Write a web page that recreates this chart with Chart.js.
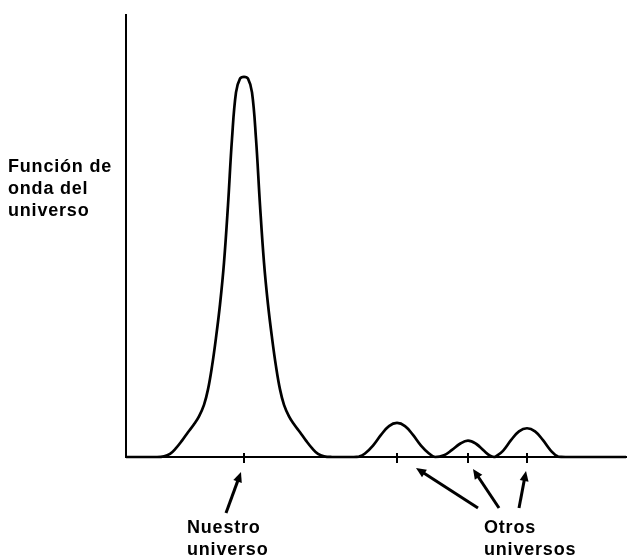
<!DOCTYPE html>
<html>
  <head>
    <title>Función de onda del universo</title>
    <style>
      body { margin: 0; background: #fff; }
      #wrap { width: 628px; height: 557px; }
    </style>
  </head>
  <body>
    <div id="wrap"><canvas id="waveChart"></canvas></div>

    <script src="https://cdn.jsdelivr.net/npm/chart.js"></script>
    <script>
      // posicion (unidades arbitrarias) y amplitud de la funcion de onda
      const xValues = [0, 30, 38, 44, 50, 56, 62, 68, 73, 78, 82, 86, 90, 94, 98, 102, 106, 110, 114,
        118, 122, 126, 130, 134, 138, 142, 146, 150, 154, 158, 163, 168, 174, 180, 186, 192, 198, 206,
        227, 233, 239, 247, 255, 263, 271, 279, 287, 295, 303, 309,
        318, 326, 334, 342, 350, 358, 364, 368,
        370, 377, 385, 393, 401, 409, 417, 425, 432, 440, 500];
      const yValues = [0, 0, 0.15, 0.7, 2, 3.7, 5.6, 7.4, 9.2, 11.8, 15.3, 20.5, 27, 34.5, 44, 57, 72, 82.5, 85.6,
        86, 85.6, 82.5, 72, 57, 44, 34.5, 27, 20.5, 15.3, 11.8, 9.2, 7.4, 5.6, 3.7, 2, 0.7, 0.15, 0,
        0, 0.1, 0.8, 2.6, 5, 7, 7.7, 7, 5, 2.6, 0.8, 0,
        0.4, 1.6, 3, 3.7, 3, 1.4, 0.3, 0,
        0.15, 1.4, 3.8, 5.8, 6.5, 5.8, 3.8, 1.4, 0.1, 0, 0];
      // marcas en el eje x: nuestro universo + otros universos
      const tickPositions = [118, 271, 342, 401];
      const yLabel = ["Función de", "onda del", "universo"];
      const ourLabel = ["Nuestro", "universo"];
      const otherLabel = ["Otros", "universos"];

      const points = xValues.map((x, i) => ({ x: x, y: yValues[i] }));

      function arrow(ctx, x1, y1, x2, y2) {
        const ang = Math.atan2(y2 - y1, x2 - x1);
        const head = 11;
        ctx.beginPath();
        ctx.moveTo(x1, y1);
        ctx.lineTo(x2 - Math.cos(ang) * 6, y2 - Math.sin(ang) * 6);
        ctx.stroke();
        ctx.beginPath();
        ctx.moveTo(x2, y2);
        ctx.lineTo(x2 - head * Math.cos(ang - 0.42), y2 - head * Math.sin(ang - 0.42));
        ctx.lineTo(x2 - head * Math.cos(ang + 0.42), y2 - head * Math.sin(ang + 0.42));
        ctx.closePath();
        ctx.fill();
      }

      // textos y flechas
      const labelsPlugin = {
        id: "labels",
        afterDraw(chart) {
          const ctx = chart.ctx;
          const xs = chart.scales.x;
          const base = chart.chartArea.bottom;
          const t = tickPositions.map((v) => xs.getPixelForValue(v));
          ctx.save();
          ctx.fillStyle = "#000";
          ctx.strokeStyle = "#000";
          ctx.lineWidth = 3;
          ctx.font = "bold 18px 'Liberation Sans', Arial, sans-serif";
          ctx.letterSpacing = "0.8px";
          ctx.textBaseline = "alphabetic";
          ctx.textAlign = "left";

          yLabel.forEach((s, i) => ctx.fillText(s, 8, 172 + i * 22));
          ourLabel.forEach((s, i) => ctx.fillText(s, t[0] - 57, base + 76 + i * 22));
          otherLabel.forEach((s, i) => ctx.fillText(s, t[3] - 43, base + 76 + i * 22));

          arrow(ctx, t[0] - 18, base + 56, t[0] - 3, base + 15);
          arrow(ctx, t[3] - 49, base + 51, t[1] + 19, base + 11);
          arrow(ctx, t[3] - 28, base + 51, t[2] + 5, base + 12);
          arrow(ctx, t[3] - 8, base + 51, t[3] - 1, base + 14);

          // las marcas del eje cruzan un poco por encima
          ctx.lineWidth = 2;
          t.forEach((x) => {
            ctx.beginPath();
            ctx.moveTo(x, base - 4);
            ctx.lineTo(x, base);
            ctx.stroke();
          });
          ctx.restore();
        },
      };

      new Chart(document.getElementById("waveChart"), {
        type: "line",
        data: {
          datasets: [
            {
              data: points,
              borderColor: "#000",
              borderWidth: 2.7,
              pointRadius: 0,
              fill: false,
              tension: 0.4,
              clip: false,
            },
          ],
        },
        options: {
          responsive: true,
          maintainAspectRatio: false,
          animation: false,
          layout: { padding: { left: 126, right: 2, top: 15, bottom: 94 } },
          plugins: { legend: { display: false }, tooltip: { enabled: false } },
          scales: {
            x: {
              type: "linear",
              min: 0,
              max: 500,
              afterBuildTicks: (scale) => {
                scale.ticks = tickPositions.map((v) => ({ value: v }));
              },
              ticks: { display: false },
              grid: {
                display: true,
                drawOnChartArea: false,
                drawTicks: true,
                tickLength: 6,
                color: "#000",
                lineWidth: 2,
              },
              border: { display: true, color: "#000", width: 2 },
            },
            y: {
              min: 0,
              max: 100,
              ticks: { display: false },
              grid: { display: false, drawTicks: false },
              border: { display: true, color: "#000", width: 2 },
            },
          },
        },
        plugins: [labelsPlugin],
      });
    </script>
  </body>
</html>
